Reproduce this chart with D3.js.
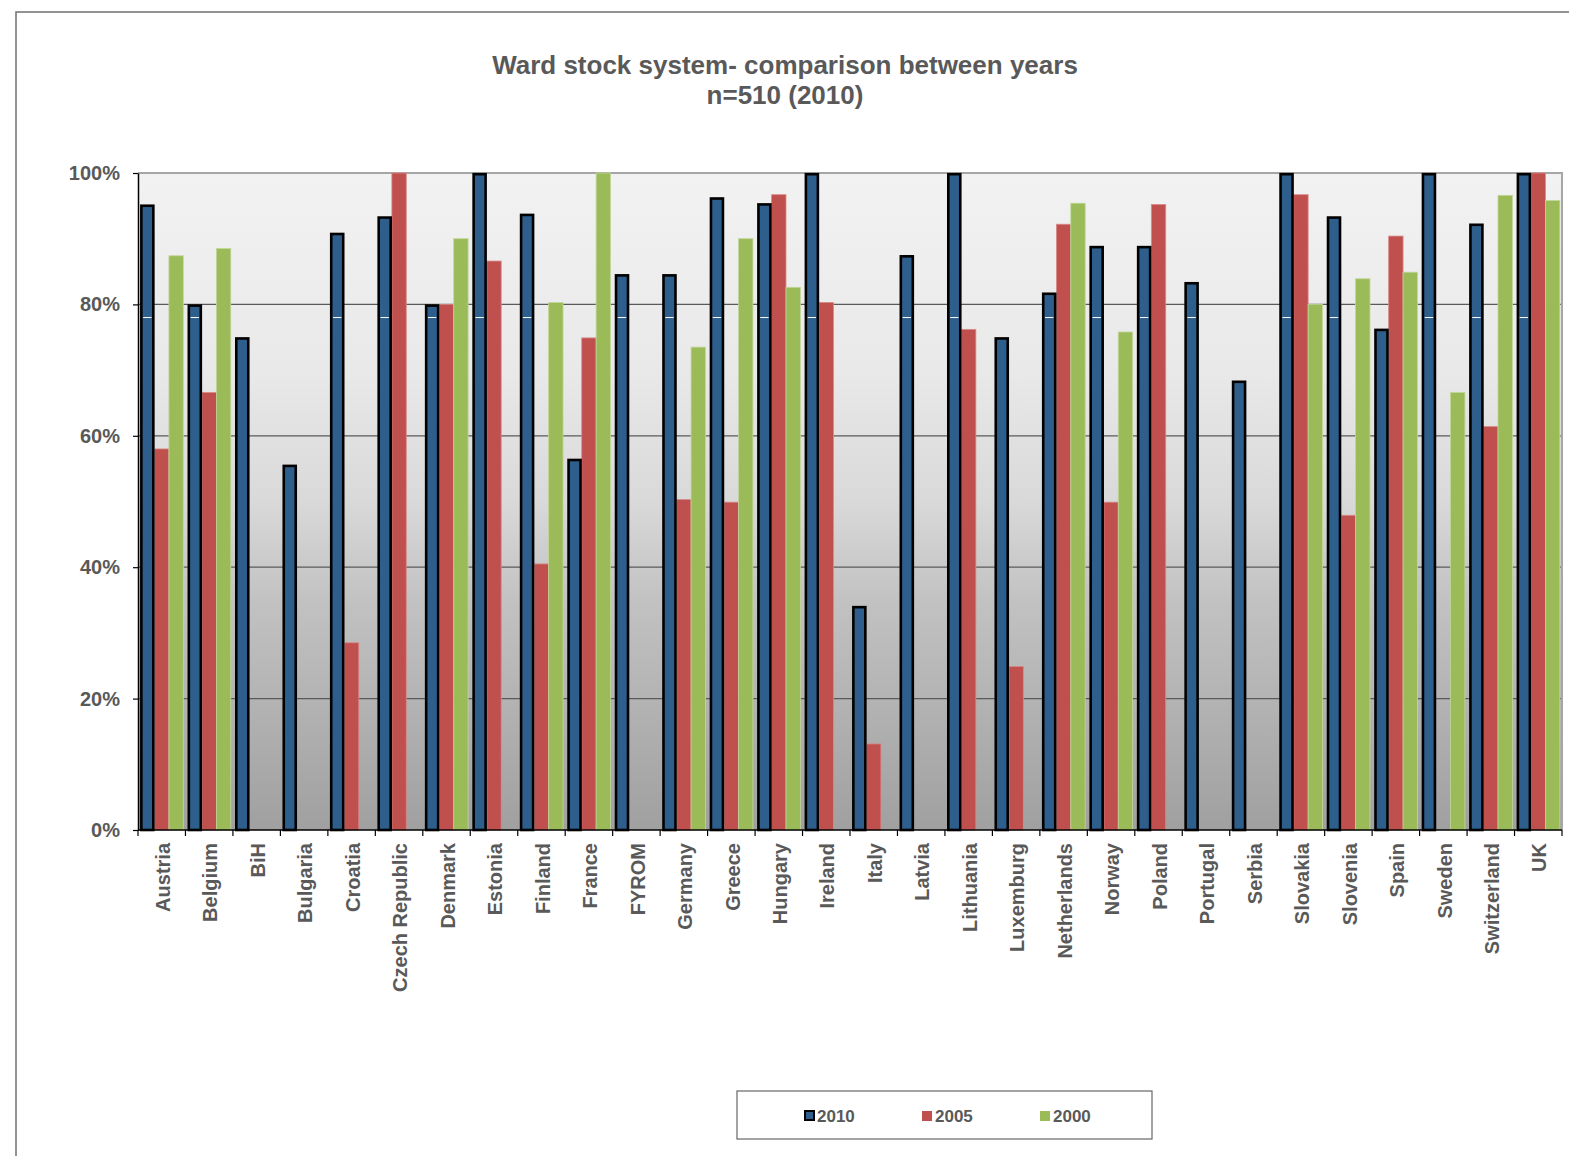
<!DOCTYPE html>
<html>
<head>
<meta charset="utf-8">
<script src="https://cdn.jsdelivr.net/npm/d3@7"></script>
<style>
  html, body { margin: 0; padding: 0; background: #fff; }
  svg { display: block; font-family: "Liberation Sans", Arial, sans-serif; }
</style>
</head>
<body>
<svg id="chart" width="1569" height="1156"></svg>
<script>
const categories = ["Austria","Belgium","BiH","Bulgaria","Croatia","Czech Republic","Denmark","Estonia","Finland","France","FYROM","Germany","Greece","Hungary","Ireland","Italy","Latvia","Lithuania","Luxemburg","Netherlands","Norway","Poland","Portugal","Serbia","Slovakia","Slovenia","Spain","Sweden","Switzerland","UK"];
const seriesNames = ["2010","2005","2000"];
const values2010 = [95.2,80.0,75.0,55.6,90.9,93.4,80.0,100,93.8,56.5,84.6,84.6,96.3,95.4,100,34.1,87.5,100,75.0,81.8,88.9,88.9,83.4,68.4,100,93.4,76.3,100,92.3,100];
const values2005 = [58.0,66.6,null,null,28.5,100,80.0,86.6,40.5,74.9,null,50.3,49.9,96.7,80.3,13.1,null,76.2,24.9,92.2,49.9,95.2,null,null,96.7,47.9,90.4,null,61.4,100];
const values2000 = [87.4,88.5,null,null,null,null,90.0,null,80.3,100,null,73.5,90.0,82.6,null,null,null,null,null,95.4,75.8,null,null,null,80.0,83.9,84.9,66.6,96.6,95.8];
const yTicks = [0,20,40,60,80,100];
const titleLines = ["Ward stock system- comparison between years","n=510 (2010)"];

const seriesValues = [values2010, values2005, values2000];
const colors = {"2010":"#2e5e8c","2005":"#c0504d","2000":"#9bbb59"};
const textColor = "#595959";

const svg = d3.select("#chart");
const plot = {left:138, right:1562, top:173, bottom:830};

// outer frame
svg.append("path").attr("d", `M16,1156 V12 H1569`).attr("fill","none").attr("stroke","#707070").attr("stroke-width",1.5);

// title
svg.append("g").selectAll("text").data(titleLines).join("text")
  .attr("x", 785).attr("y", (d,i)=> 74 + i*30)
  .attr("text-anchor","middle").attr("font-size",26).attr("font-weight","bold")
  .attr("fill", textColor).text(d=>d);

// gradient background
const defs = svg.append("defs");
const grad = defs.append("linearGradient").attr("id","bg").attr("x1",0).attr("y1",0).attr("x2",0).attr("y2",1);
[[0,"#f2f2f2"],[0.3,"#e9e9e9"],[0.5,"#d9d9d9"],[0.65,"#c2c2c2"],[1,"#a0a0a0"]].forEach(([o,c])=>
  grad.append("stop").attr("offset",o).attr("stop-color",c));

svg.append("rect").attr("x",plot.left).attr("y",plot.top)
  .attr("width",plot.right-plot.left).attr("height",plot.bottom-plot.top)
  .attr("fill","url(#bg)");

const y = d3.scaleLinear().domain([0,100]).range([plot.bottom, plot.top]);
const x0 = d3.scaleBand().domain(categories).range([plot.left, plot.right]).paddingInner(0).paddingOuter(0);
const x1 = d3.scaleBand().domain(seriesNames).range([0, x0.bandwidth()]).paddingInner(0).paddingOuter(0.15);

// gridlines
svg.append("g").selectAll("line").data(yTicks.filter(t=>t>0 && t<100)).join("line")
  .attr("x1",plot.left).attr("x2",plot.right).attr("y1",d=>y(d)).attr("y2",d=>y(d))
  .attr("stroke","#5a5a5a").attr("stroke-width",1.2);

// plot border top/right
svg.append("path").attr("d",`M${plot.left},${y(100)} H${plot.right} V${plot.bottom}`)
  .attr("fill","none").attr("stroke","#a6a6a6").attr("stroke-width",2);

// bars
const barData = [];
categories.forEach((c,i)=>{
  seriesNames.forEach((s,j)=>{
    const v = seriesValues[j][i];
    if (v !== null) barData.push({cat:c, series:s, value:v});
  });
});

const bars = svg.append("g");
bars.selectAll("rect.lite").data(barData.filter(d=>d.series!=="2010")).join("rect")
  .attr("class","lite")
  .attr("x", d=>x0(d.cat)+x1(d.series))
  .attr("y", d=>y(d.value))
  .attr("width", x1.bandwidth())
  .attr("height", d=>y(0)-y(d.value))
  .attr("fill", d=>colors[d.series])
  .attr("stroke", d=> d.series==="2005" ? "#d98a88" : "#c2d69a")
  .attr("stroke-width",0.8);

bars.selectAll("rect.dark").data(barData.filter(d=>d.series==="2010")).join("rect")
  .attr("class","dark")
  .attr("x", d=>x0(d.cat)+x1(d.series)+1.2)
  .attr("y", d=>y(d.value)+1.2)
  .attr("width", x1.bandwidth()-2.4)
  .attr("height", d=>y(0)-y(d.value)-1.2)
  .attr("fill", colors["2010"])
  .attr("stroke","#000").attr("stroke-width",2.6);

// small white marks on 2010 bars (as in reference)
bars.selectAll("line.mark").data(barData.filter(d=>d.series==="2010" && d.value>79)).join("line")
  .attr("class","mark")
  .attr("x1", d=>x0(d.cat)+x1(d.series)+3)
  .attr("x2", d=>x0(d.cat)+x1(d.series)+x1.bandwidth()-3)
  .attr("y1", y(78)).attr("y2", y(78))
  .attr("stroke","#ffffff").attr("stroke-width",1);

// y axis
const yAxis = d3.axisLeft(y).tickValues(yTicks).tickFormat(d=>d+"%").tickSize(5).tickSizeOuter(0);
const gy = svg.append("g").attr("transform",`translate(${plot.left},0)`).call(yAxis);
gy.select(".domain").attr("stroke","#000").attr("stroke-width",1.5);
gy.selectAll(".tick line").attr("stroke","#000").attr("stroke-width",1.2);
gy.selectAll(".tick text").attr("x",-18).attr("font-size",20).attr("font-weight","bold")
  .attr("fill",textColor).attr("font-family","Liberation Sans, Arial, sans-serif");

// x axis
const gx = svg.append("g").attr("transform",`translate(0,${plot.bottom})`);
gx.append("line").attr("x1",plot.left).attr("x2",plot.right).attr("stroke","#000").attr("stroke-width",1.5);
const boundaries = categories.map(c=>x0(c)).concat([plot.right]);
gx.selectAll("line.tk").data(boundaries).join("line").attr("class","tk")
  .attr("x1",d=>d).attr("x2",d=>d).attr("y1",0).attr("y2",6)
  .attr("stroke","#000").attr("stroke-width",1.2);
gx.selectAll("text").data(categories).join("text")
  .attr("transform", d=>`translate(${x0(d)+x0.bandwidth()/2+1},13) rotate(-90)`)
  .attr("text-anchor","end").attr("dy","0.36em")
  .attr("font-size",20).attr("font-weight","bold").attr("fill",textColor)
  .text(d=>d);

// legend
const lg = svg.append("g");
lg.append("rect").attr("x",737).attr("y",1091).attr("width",415).attr("height",48)
  .attr("fill","#fff").attr("stroke","#666").attr("stroke-width",1.2);
const legendX = d3.scalePoint().domain(seriesNames).range([804, 1040]);
const li = lg.selectAll("g.item").data(seriesNames).join("g").attr("class","item")
  .attr("transform", d=>`translate(${legendX(d)},1116)`);
li.append("rect").attr("x", d=> d==="2010"?1:0).attr("y",-5)
  .attr("width",d=> d==="2010"?9:10).attr("height",d=> d==="2010"?9:10)
  .attr("fill",d=>colors[d]).attr("stroke",d=> d==="2010"?"#000":"none").attr("stroke-width",2);
li.append("text").attr("x",13).attr("dy","0.36em").attr("font-size",17).attr("font-weight","bold")
  .attr("fill",textColor).text(d=>d);
</script>
</body>
</html>
